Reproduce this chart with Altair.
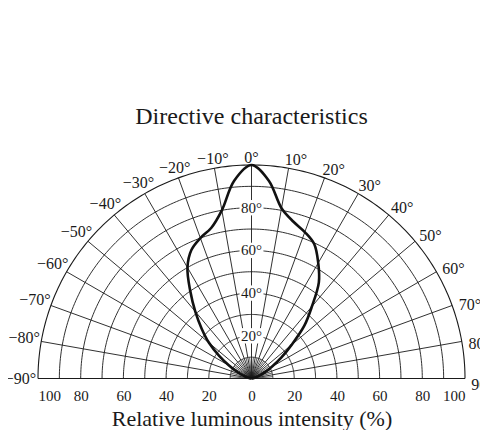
import altair as alt
import numpy as np
import pandas as pd

# ---- data ----
ANGLES = list(range(-90, 95, 5))
INTENSITY = [0, 0, 0.3, 1.5, 4, 7.5, 12, 18.5, 26, 33, 41, 50, 60, 66.5, 70, 73, 80, 93,
             100,
             93, 81, 76, 73, 69.5, 62.5, 55, 44, 35, 24.5, 17, 11, 7, 4, 1.5, 0.3, 0, 0]
ANGLE_TICKS = list(range(-90, 100, 10))
RADIAL_TICKS = [20, 40, 60, 80]
CIRCLES = list(range(10, 110, 10))
X_TICKS = [-100, -80, -60, -40, -20, 0, 20, 40, 60, 80, 100]

FONT = "Liberation Serif"
INK = "#1a1a1a"


def polar(r, a_deg):
    a = np.radians(a_deg)
    return r * np.sin(a), r * np.cos(a)


# curve
cx, cy = polar(np.array(INTENSITY, float), np.array(ANGLES, float))
curve_df = pd.DataFrame({"x": cx, "y": cy, "order": range(len(ANGLES))})

# grid: circles
rows = []
g = 0
for r in CIRCLES:
    for i, a in enumerate(range(-90, 91)):
        x, y = polar(r, a)
        rows.append({"g": g, "o": i, "x": x, "y": y, "w": "outer" if r == 100 else "inner"})
    g += 1
# major spokes every 10 degrees
for a in range(-80, 90, 10):
    for i, r in enumerate([0, 100]):
        x, y = polar(r, a)
        rows.append({"g": g, "o": i, "x": x, "y": y, "w": "inner"})
    g += 1
# minor spokes near the centre
for a in range(-85, 90, 10):
    for i, r in enumerate([0, 10]):
        x, y = polar(r, a)
        rows.append({"g": g, "o": i, "x": x, "y": y, "w": "minor"})
    g += 1
# base line
for i, xv in enumerate([-100, 100]):
    rows.append({"g": g, "o": i, "x": xv, "y": 0.0, "w": "outer"})
grid_df = pd.DataFrame(rows)

# angle labels
lab = []
for a in ANGLE_TICKS:
    rr = (221 + 10 * abs(np.sin(np.radians(a)))) / 2.135
    aa = a + (1.5 if a > 0 else 0)
    x, y = polar(rr, aa)
    txt = ("\u2212" + str(abs(a)) if a < 0 else str(a)) + "\u00b0"
    lab.append({"x": x, "y": y, "t": txt})
ang_df = pd.DataFrame(lab)

rad_df = pd.DataFrame({"x": [0.0] * len(RADIAL_TICKS), "y": RADIAL_TICKS,
                       "t": [f"{v}\u00b0" for v in RADIAL_TICKS]})
box_df = pd.DataFrame({"x": [-5.6] * len(RADIAL_TICKS), "x2": [5.6] * len(RADIAL_TICKS),
                       "y": [v - 3.6 for v in RADIAL_TICKS], "y2": [v + 3.6 for v in RADIAL_TICKS]})

xscale = alt.Scale(domain=[-100, 100], nice=False, zero=False)
yscale = alt.Scale(domain=[0, 100], nice=False, zero=False)

grid = alt.Chart(grid_df).mark_line(color=INK, clip=False).encode(
    x=alt.X("x:Q", scale=xscale, axis=alt.Axis(
        values=X_TICKS, labelExpr="abs(datum.value)", domain=False, ticks=False, grid=False,
        labelFont=FONT, labelFontSize=15, labelColor=INK, labelPadding=10,
        title="Relative luminous intensity  (%)", titleFont=FONT, titleFontSize=22,
        titleFontWeight="normal", titleColor=INK, titlePadding=5)),
    y=alt.Y("y:Q", scale=yscale, axis=None),
    detail="g:N",
    order="o:Q",
    strokeWidth=alt.StrokeWidth("w:N", scale=alt.Scale(domain=["minor", "inner", "outer"],
                                                       range=[0.7, 1.1, 1.6]), legend=None),
)

boxes = alt.Chart(box_df).mark_rect(color="white").encode(
    x="x:Q", x2="x2:Q", y="y:Q", y2="y2:Q")

rad_text = alt.Chart(rad_df).mark_text(font=FONT, fontSize=15, color=INK, baseline="middle").encode(
    x="x:Q", y="y:Q", text="t:N")

ang_text = alt.Chart(ang_df).mark_text(font=FONT, fontSize=16, color=INK, baseline="middle", clip=False).encode(
    x="x:Q", y="y:Q", text="t:N")

curve = alt.Chart(curve_df).mark_line(color="#111111", strokeWidth=2.6, interpolate="catmull-rom").encode(
    x="x:Q", y="y:Q", order="order:Q")

chart = alt.layer(grid, boxes, rad_text, ang_text, curve).properties(
    width=427, height=213.5,
    title=alt.TitleParams("Directive characteristics", font=FONT, fontSize=24,
                          fontWeight="normal", color=INK, offset=21),
    autosize=alt.AutoSizeParams(type="none"),
    padding={"left": 30, "top": 157, "right": 15, "bottom": 52},
).configure_view(stroke=None)

chart.save("out.html", embed_options={"renderer": "svg", "actions": False})
